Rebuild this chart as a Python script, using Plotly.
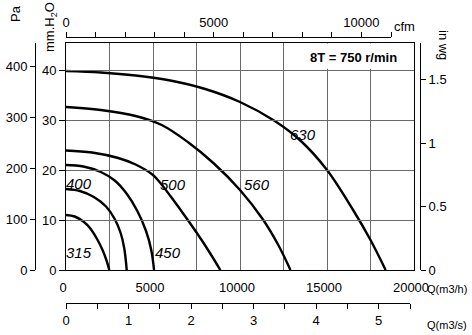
import plotly.graph_objects as go

W, H = 472, 335

# ---------------- data (Q in m3/h, pressure in mm H2O) ----------------
q_630 = [0, 2000, 4000, 6000, 8000, 10000, 12000, 13500, 15000, 16500, 17500, 18370]
p_630 = [39.8, 39.5, 38.9, 37.9, 36.2, 33.6, 29.8, 25.8, 20.0, 12.0, 6.0, 0]

q_560 = [0, 2000, 4000, 5500, 7000, 8500, 10000, 11300, 12200, 12900]
p_560 = [32.6, 32.0, 30.8, 29.0, 25.6, 21.3, 16.0, 10.2, 5.0, 0]

q_500 = [0, 1500, 3000, 4000, 5000, 5400, 6000, 7000, 8000, 8870]
p_500 = [23.9, 23.5, 22.4, 21.1, 19.0, 17.5, 14.8, 10.0, 4.9, 0]

q_450 = [0, 1000, 2000, 2800, 3500, 4100, 4600, 4900, 5060]
p_450 = [21.0, 20.7, 19.6, 17.9, 15.2, 11.8, 7.8, 4.0, 0]

q_400 = [0, 800, 1600, 2300, 2800, 3150, 3350, 3490]
p_400 = [16.2, 15.8, 14.6, 12.7, 10.2, 7.3, 4.3, 0]

q_315 = [0, 500, 1000, 1400, 1800, 2100, 2330, 2490]
p_315 = [11.0, 10.7, 9.7, 8.3, 6.1, 4.0, 1.9, 0]

curve_names = ["630", "560", "500", "450", "400", "315"]
curve_q = [q_630, q_560, q_500, q_450, q_400, q_315]
curve_p = [p_630, p_560, p_500, p_450, p_400, p_315]
# label anchor positions (Q m3/h, mm H2O)
label_q = [13620, 10980, 6150, 5860, 750, 750]
label_p = [27.2, 17.2, 17.2, 3.6, 17.4, 3.6]

q_ticks = [0, 5000, 10000, 15000, 20000]
q_grid = list(range(0, 20001, 2500))
mm_ticks = [0, 10, 20, 30, 40]
pa_ticks = [0, 100, 200, 300, 400]
inwg_ticks = [0, 0.5, 1, 1.5]
inwg_text = ["0", "0.5", "1", "1.5"]
cfm_ticks = list(range(0, 11001, 1000))
cfm_labels = {0: "0", 5000: "5000", 10000: "10000"}
m3s_ticks = [i * 0.5 for i in range(0, 12)]
title_text = "8T = 750 r/min"

# ---------------- geometry ----------------
def px(x):
    return x / W

def py(y):
    return 1 - y / H

x_left, x_right = 66, 414
y_top, y_bot = 43, 270
mm_top = (y_bot - y_top) / 5.0  # 5 px per mm
pa_top = mm_top * 9.80665
inwg_top = mm_top / 25.4

FONT = "Liberation Sans, Arial, sans-serif"
GRID = "#6a6a6a"

fig = go.Figure()

for name, q, p in zip(curve_names, curve_q, curve_p):
    fig.add_trace(go.Scatter(x=q, y=p, mode="lines", name=name,
                             line=dict(color="black", width=2.4, shape="spline", smoothing=1.0),
                             showlegend=False, hoverinfo="skip"))

# invisible traces to activate secondary axes
fig.add_trace(go.Scatter(x=[None], y=[None], xaxis="x2", yaxis="y", showlegend=False))
fig.add_trace(go.Scatter(x=[None], y=[None], xaxis="x3", yaxis="y", showlegend=False))
fig.add_trace(go.Scatter(x=[None], y=[None], xaxis="x", yaxis="y2", showlegend=False))
fig.add_trace(go.Scatter(x=[None], y=[None], xaxis="x", yaxis="y3", showlegend=False))

dom_x = [px(x_left), px(x_right)]
dom_y = [py(y_bot), py(y_top)]

fig.update_layout(
    width=W, height=H,
    margin=dict(l=0, r=0, t=0, b=0),
    paper_bgcolor="white", plot_bgcolor="rgba(0,0,0,0)",
    font=dict(family=FONT, size=13, color="black"),
    xaxis=dict(domain=dom_x, range=[0, 20000], tickvals=q_grid,
               ticktext=[str(v) if v in q_ticks else "" for v in q_grid],
               showgrid=True, gridcolor=GRID, gridwidth=1,
               showline=True, linecolor="black", linewidth=1, mirror=True,
               ticks="outside", ticklen=5, tickcolor="rgba(0,0,0,0)",
               ticklabelshift=-3,
               zeroline=False, automargin=False, fixedrange=True),
    yaxis=dict(domain=dom_y, range=[0, mm_top], tickvals=mm_ticks,
               showgrid=True, gridcolor=GRID, gridwidth=1,
               showline=True, linecolor="black", linewidth=1, mirror=True,
               ticks="outside", ticklen=6, tickcolor="black",
               zeroline=False, automargin=False, fixedrange=True),
    xaxis2=dict(domain=[px(x_left), px(391)], range=[0, 11000], anchor="free",
                position=py(37), side="top", tickvals=cfm_ticks,
                ticktext=[cfm_labels.get(v, "") for v in cfm_ticks],
                showgrid=False, showline=True, linecolor="black", linewidth=1,
                ticks="outside", ticklen=5, tickcolor="black",
                zeroline=False, automargin=False, fixedrange=True),
    xaxis3=dict(domain=[px(x_left), px(410)], range=[0, 5.5], anchor="free",
                position=py(303), side="bottom", tickvals=m3s_ticks,
                ticktext=[str(int(v)) if v == int(v) else "" for v in m3s_ticks],
                showgrid=False, showline=True, linecolor="black", linewidth=1,
                ticks="outside", ticklen=5, tickcolor="black",
                zeroline=False, automargin=False, fixedrange=True),
    yaxis2=dict(range=[0, pa_top], overlaying="y", anchor="free", position=px(35),
                side="left", tickvals=pa_ticks, showgrid=False,
                showline=True, linecolor="black", linewidth=1,
                ticks="outside", ticklen=5, tickcolor="black",
                zeroline=False, automargin=False, fixedrange=True),
    yaxis3=dict(range=[0, inwg_top], overlaying="y", anchor="free", position=px(420),
                side="right", tickvals=inwg_ticks, ticktext=inwg_text, showgrid=False,
                showline=True, linecolor="black", linewidth=1,
                ticks="outside", ticklen=5, tickcolor="black",
                zeroline=False, automargin=False, fixedrange=True),
)

# white patch hiding the grid behind the speed label
fig.add_shape(type="rect", xref="x", yref="y", x0=12620, x1=19960, y0=40.25, y1=mm_top - 0.1,
              fillcolor="white", line=dict(width=0), layer="between")

anns = []
anns.append(dict(x=16500, y=42.6, xref="x", yref="y", text="<b>" + title_text + "</b>",
                 showarrow=False, font=dict(size=13)))
for name, lq, lp in zip(curve_names, label_q, label_p):
    anns.append(dict(x=lq, y=lp, xref="x", yref="y", text="<i>" + name + "</i>",
                     showarrow=False, font=dict(size=15)))

def paper_ann(text, x, y, size=13, angle=0, xanchor="center"):
    return dict(x=px(x), y=py(y), xref="paper", yref="paper", text=text,
                showarrow=False, textangle=angle, xanchor=xanchor, yanchor="middle",
                font=dict(size=size))

anns.append(paper_ann("Pa", 16, 14, angle=-90))
anns.append(paper_ann("mm.H<sub>2</sub>O", 50, 27, angle=-90))
anns.append(paper_ann("in wg", 443, 45, angle=90))
anns.append(paper_ann("cfm", 404, 26))
anns.append(paper_ann("Q(m3/h)", 425, 289, size=11, xanchor="left"))
anns.append(paper_ann("Q(m3/s)", 425, 325, size=11, xanchor="left"))
fig.update_layout(annotations=anns)

fig.write_html("out.html")
